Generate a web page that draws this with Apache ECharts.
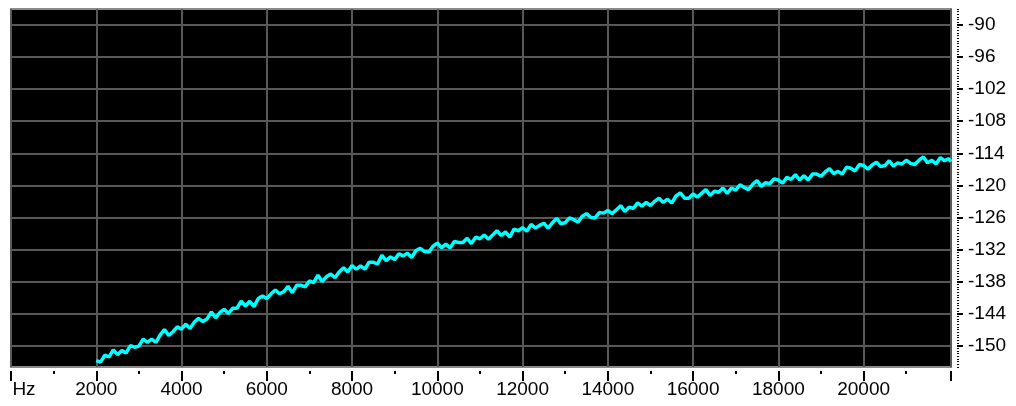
<!DOCTYPE html>
<html lang="en">

<head>
    <meta charset="UTF-8">
    <title>Spectrum</title>
    <style>
        body {
            margin: 0;
            overflow: hidden;
            background: #fff;
        }

        #chart {
            width: 1016px;
            height: 406px;
        }
    </style>
</head>

<body>
    <div id="chart"></div>
    <script type="text/javascript" src="https://cdn.jsdelivr.net/npm/echarts@6/dist/echarts.min.js"></script>
    <script type="text/javascript">
        // analyser bins: first bin and spacing (Hz)
        var startFreq = 2000;
        var binStep = 100;
        var endFreq = 22050;

        // level in dB, one row per 1000 Hz
        var levels = [
            -152.8, -153.1, -151.8, -152.1, -150.8, -151.7, -150.9, -151.4, -150.0, -150.3,
            -150.1, -148.8, -149.4, -148.8, -149.4, -148.0, -147.0, -148.1, -147.4, -146.5,
            -146.9, -146.0, -146.8, -145.6, -144.9, -145.5, -145.0, -143.7, -144.8, -143.8,
            -143.2, -144.0, -143.0, -143.0, -141.7, -142.6, -141.7, -142.7, -141.2, -140.7,
            -141.2, -140.3, -139.6, -140.3, -139.9, -138.9, -140.1, -138.7, -138.7, -139.0,
            -137.9, -138.2, -136.8, -138.0, -137.1, -136.6, -137.3, -136.2, -135.4, -136.2,
            -135.0, -135.7, -135.1, -135.7, -134.4, -134.4, -134.7, -133.1, -134.1, -133.4,
            -133.9, -132.8, -133.2, -132.7, -133.5, -132.2, -131.8, -132.4, -132.5, -131.4,
            -130.8, -131.7, -131.0, -131.7, -130.5, -130.7, -130.7, -129.9, -130.9, -129.7,
            -130.0, -129.3, -130.1, -129.3, -128.5, -129.4, -128.7, -129.7, -128.2, -128.5,
            -127.9, -128.6, -127.3, -128.0, -127.5, -127.1, -128.0, -127.0, -126.2, -127.2,
            -127.0, -126.1, -126.4, -126.9, -125.8, -125.3, -126.0, -126.1, -125.1, -125.2,
            -124.7, -125.3, -124.6, -123.8, -124.9, -124.1, -124.3, -123.3, -123.9, -123.2,
            -123.8, -123.0, -122.4, -123.2, -122.6, -123.3, -122.0, -121.4, -122.4, -122.4,
            -121.6, -122.2, -121.5, -120.8, -121.9, -121.1, -121.3, -120.5, -121.5, -120.5,
            -120.9, -119.9, -120.4, -120.8, -119.8, -119.1, -120.2, -119.5, -119.7, -118.8,
            -119.0, -119.6, -118.5, -118.9, -118.0, -119.0, -118.2, -119.0, -117.9, -117.9,
            -118.3, -117.5, -116.9, -117.8, -117.4, -117.9, -116.6, -116.8, -117.3, -116.1,
            -116.3, -117.0, -116.2, -115.7, -116.5, -116.3, -115.4, -116.4, -115.8, -116.0,
            -115.3, -115.9, -116.1, -115.3, -114.7, -115.8, -115.3, -116.0, -114.8, -115.4,
            -115.0
        ];
        var lastLevel = -115.6;

        // x axis ticks and labels
        var xMajorTicks = [0, 2000, 4000, 6000, 8000, 10000, 12000, 14000, 16000, 18000, 20000, 22050];
        var xMinorTicks = [1000, 3000, 5000, 7000, 9000, 11000, 13000, 15000, 17000, 19000, 21000];
        var xLabels = [0, 2000, 4000, 6000, 8000, 10000, 12000, 14000, 16000, 18000, 20000];

        // y axis ticks (dB)
        var yTicks = [-150, -144, -138, -132, -126, -120, -114, -108, -102, -96, -90];
        var yMin = -154;
        var yMax = -87;

        var points = levels.map(function (v, i) {
            return [startFreq + i * binStep, v];
        });
        points.push([endFreq, lastLevel]);

        // dotted minor ticks every half dB
        var yMinor = [];
        for (var t = yMin; t <= yMax; t += 0.5) {
            yMinor.push(t);
        }

        var font = 'Liberation Sans, Arial, sans-serif';
        var gridColor = '#585858';

        var myChart = echarts.init(document.getElementById('chart'));

        var option = {
            animation: false,
            grid: {
                left: 11,
                right: 65,
                top: 9,
                bottom: 39,
                show: true,
                backgroundColor: '#000',
                borderColor: '#8a8a8a',
                borderWidth: 2
            },
            xAxis: [{
                type: 'value',
                position: 'bottom',
                min: 0,
                max: endFreq,
                offset: 4,
                axisLine: { show: false, onZero: false },
                axisTick: {
                    show: true,
                    customValues: xMajorTicks,
                    length: 10,
                    lineStyle: { color: '#000', width: 2 }
                },
                axisLabel: {
                    customValues: xLabels,
                    margin: 9,
                    color: '#000',
                    fontFamily: font,
                    fontSize: 19,
                    formatter: function (v) {
                        return v === 0 ? '{hz|Hz}' : String(v);
                    },
                    rich: {
                        hz: {
                            fontFamily: font,
                            fontSize: 19,
                            color: '#000',
                            padding: [0, 0, 0, 26]
                        }
                    }
                },
                splitLine: {
                    show: true,
                    lineStyle: { color: gridColor, width: 2 }
                }
            }, {
                type: 'value',
                position: 'bottom',
                min: 0,
                max: endFreq,
                offset: 4,
                axisLine: { show: false, onZero: false },
                axisTick: {
                    show: true,
                    customValues: xMinorTicks,
                    length: 3,
                    lineStyle: { color: '#000', width: 2 }
                },
                axisLabel: { show: false },
                splitLine: { show: false }
            }],
            yAxis: [{
                type: 'value',
                position: 'right',
                min: yMin,
                max: yMax,
                offset: 6,
                axisLine: { show: false, onZero: false },
                axisTick: {
                    show: true,
                    customValues: yTicks,
                    length: 6,
                    lineStyle: { color: '#000', width: 2 }
                },
                axisLabel: {
                    customValues: yTicks,
                    margin: 11,
                    color: '#000',
                    fontFamily: font,
                    fontSize: 19,
                    padding: [0, 0, 6, 0]
                },
                splitLine: {
                    show: true,
                    lineStyle: { color: gridColor, width: 2 }
                }
            }, {
                type: 'value',
                position: 'right',
                min: yMin,
                max: yMax,
                offset: 6,
                axisLine: { show: false, onZero: false },
                axisTick: {
                    show: true,
                    customValues: yMinor,
                    length: 2,
                    lineStyle: { color: '#000', width: 1 }
                },
                axisLabel: { show: false },
                splitLine: { show: false }
            }],
            series: [{
                type: 'line',
                xAxisIndex: 0,
                yAxisIndex: 0,
                data: points,
                showSymbol: false,
                silent: true,
                lineStyle: {
                    color: '#00ffff',
                    width: 3.5
                }
            }]
        };

        myChart.setOption(option);
    </script>
</body>

</html>
